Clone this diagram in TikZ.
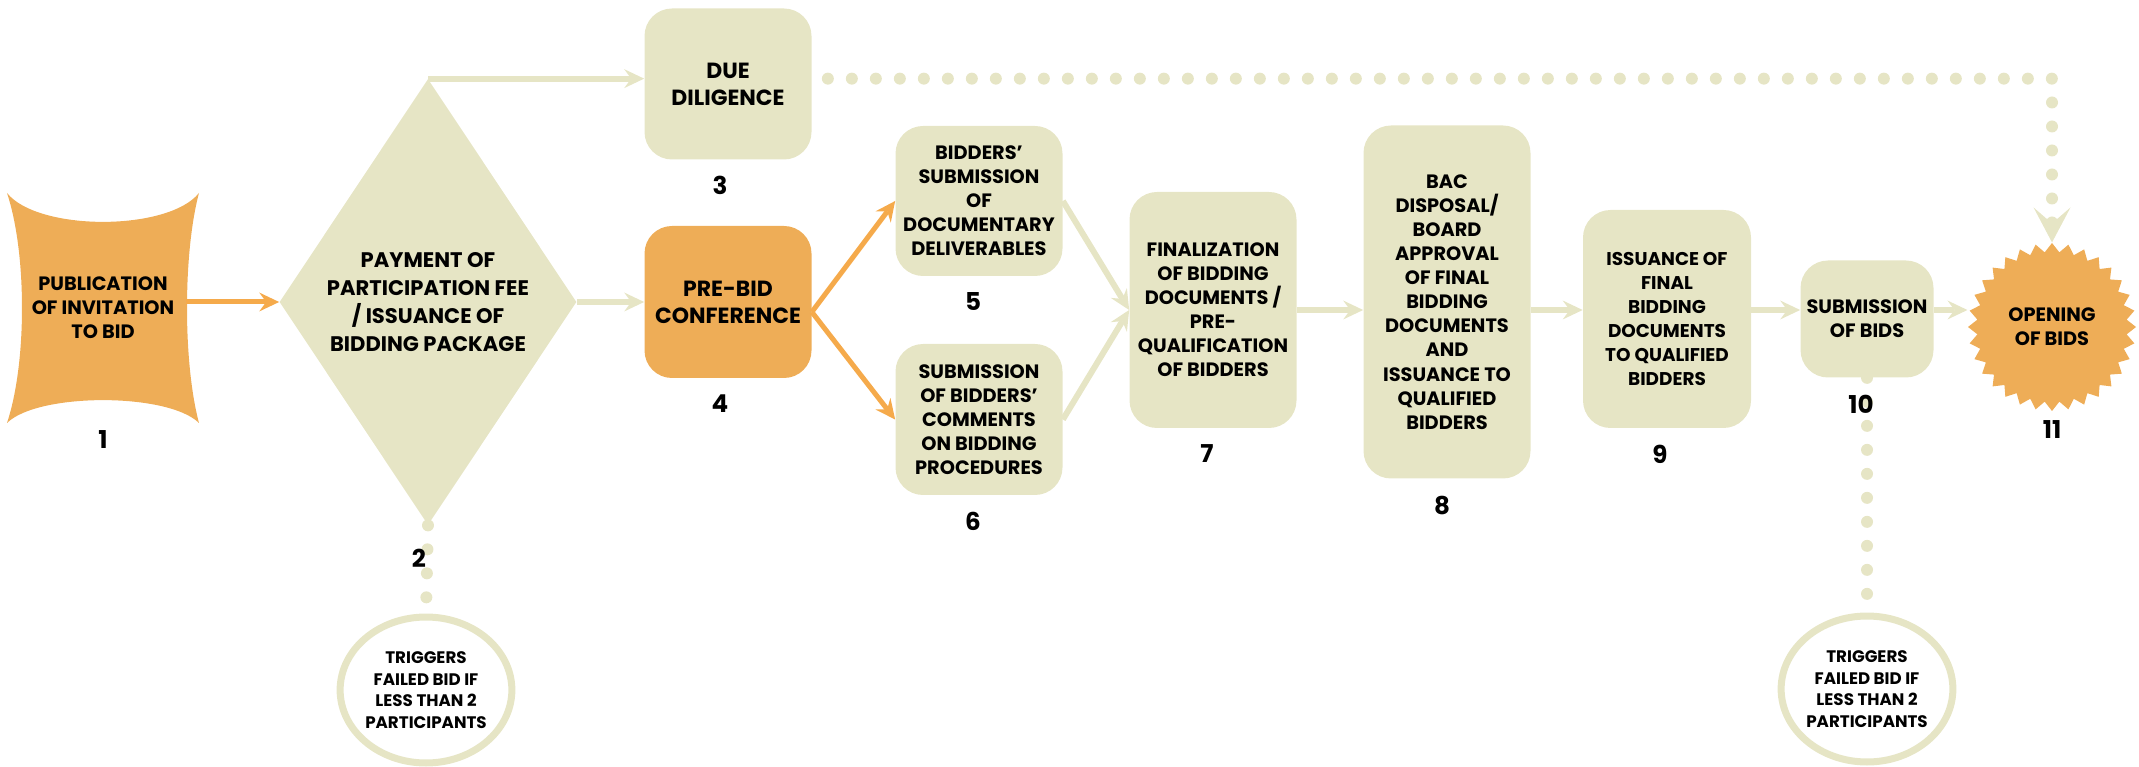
\documentclass[tikz,border=0pt]{standalone}
\usepackage{fontspec}
\setmainfont{Poppins}
\usepackage{tikz}
\usetikzlibrary{calc,shapes,arrows.meta,positioning,backgrounds}
\definecolor{beige}{RGB}{230,229,197}
\definecolor{orng}{RGB}{238,173,87}
\definecolor{orngline}{RGB}{245,170,75}

\tikzset{
	box/.style={fill=beige,rounded corners=0.55cm,minimum width=3.34cm,align=center,inner sep=0pt,font=\bfseries\fontsize{11}{13.7}\selectfont},
	bigbox/.style={box,font=\bfseries\fontsize{12.5}{15.4}\selectfont},
	num/.style={inner sep=0pt,font=\bfseries\fontsize{14}{16}\selectfont},
	arr/.style={draw=beige,line width=0.12cm,-{Stealth[length=0.4cm,width=0.38cm,inset=0.14cm,line width=0pt]}},
	oarr/.style={draw=orngline,line width=0.1cm,-{Stealth[length=0.4cm,width=0.38cm,inset=0.14cm,line width=0pt]}},
	dots/.style={draw=beige,line width=0.24cm,line cap=round,dash pattern=on 0pt off 0.48cm},
	trig/.style={ellipse,draw=beige,line width=0.14cm,fill=white,minimum width=3.24cm,minimum height=2.92cm,align=center,inner sep=0pt,font=\bfseries\fontsize{9.5}{12.2}\selectfont}
}

\begin{document}
\begin{tikzpicture}
	\useasboundingbox (0,0) rectangle (42.78,-15.34);
	\node(pub) at (2.06,-6.16) [minimum width=3.3cm,minimum height=3.56cm,align=center,inner sep=0pt,font=\bfseries\fontsize{11}{13.7}\selectfont]{PUBLICATION\\OF INVITATION\\TO BID};
	\node(pay) [diamond,fill=beige,right of=pub,node distance=6.5cm,yshift=0.12cm,minimum width=5.94cm,minimum height=8.92cm,aspect=0.666,inner sep=0pt,align=center,font=\bfseries\fontsize{12}{16.1}\selectfont]{PAYMENT OF\\PARTICIPATION FEE\\/ ISSUANCE OF\\BIDDING PACKAGE};
	\node(pre) [bigbox,fill=orng,right of=pay,node distance=6cm,minimum height=3.04cm]{PRE-BID\\CONFERENCE};
	\node(dd) [bigbox,above of=pre,node distance=4.36cm,minimum height=3.02cm]{DUE\\DILIGENCE};
	\node(sub5) [box,right of=pre,node distance=5.02cm,yshift=2.02cm,minimum height=3cm]{BIDDERS'\\SUBMISSION\\OF\\DOCUMENTARY\\DELIVERABLES};
	\node(sub6) [box,below of=sub5,node distance=4.37cm,minimum height=3.02cm]{SUBMISSION\\OF BIDDERS'\\COMMENTS\\ON BIDDING\\PROCEDURES};
	\node(fin) [box,right of=pre,node distance=9.7cm,yshift=-0.16cm,minimum height=4.72cm]{FINALIZATION\\OF BIDDING\\DOCUMENTS /\\PRE-\\QUALIFICATION\\OF BIDDERS};
	\node(bac) [box,right of=fin,node distance=4.68cm,yshift=0.16cm,minimum height=7.06cm]{BAC\\DISPOSAL/\\BOARD\\APPROVAL\\OF FINAL\\BIDDING\\DOCUMENTS\\AND\\ISSUANCE TO\\QUALIFIED\\BIDDERS};
	\node(iss) [box,right of=bac,node distance=4.4cm,yshift=-0.34cm,minimum width=3.36cm,minimum height=4.36cm,font=\bfseries\fontsize{10.5}{13.7}\selectfont]{ISSUANCE OF\\FINAL\\BIDDING\\DOCUMENTS\\TO QUALIFIED\\BIDDERS};
	\node(sob) [box,right of=iss,node distance=4cm,minimum width=2.66cm,minimum height=2.34cm]{SUBMISSION\\OF BIDS};
	\node(open) [star,star points=32,star point ratio=1.12,fill=orng,right of=sob,node distance=3.7cm,yshift=-0.16cm,minimum size=3.36cm,inner sep=0pt,align=center,font=\bfseries\fontsize{11}{13.7}\selectfont]{OPENING\\OF BIDS};
	\node(trigA) [trig,below of=pay,node distance=7.76cm,xshift=-0.04cm]{TRIGGERS\\FAILED BID IF\\LESS THAN 2\\PARTICIPANTS};
	\node(trigB) [trig,below of=sob,node distance=7.4cm]{TRIGGERS\\FAILED BID IF\\LESS THAN 2\\PARTICIPANTS};
	% shape of the first step
	\begin{scope}[on background layer]
		\fill[orng] ($(pub)+(-1.92,2.3)$) .. controls ($(pub)+(-1.3,1.53)$) and ($(pub)+(1.3,1.53)$) .. ($(pub)+(1.92,2.3)$)
			.. controls ($(pub)+(1.6,1.1)$) and ($(pub)+(1.6,-1.1)$) .. ($(pub)+(1.92,-2.3)$)
			.. controls ($(pub)+(1.3,-1.69)$) and ($(pub)+(-1.3,-1.69)$) .. ($(pub)+(-1.92,-2.3)$)
			.. controls ($(pub)+(-1.52,-1.1)$) and ($(pub)+(-1.52,1.1)$) .. cycle;
	\end{scope}
	\draw[oarr] (pub.east |- pay.west) -> (pay.west);
	\draw[arr] (pay.north) -> (pay.north -| dd.west);
	\draw[arr] (pay.east) -> (pre.west);
	\draw[oarr] ([yshift=-0.2cm]pre.east) -> (sub5.west);
	\draw[oarr] ([yshift=-0.2cm]pre.east) -> (sub6.west);
	\draw[arr] (sub5.east) -> (fin.west);
	\draw[arr] (sub6.east) -> (fin.west);
	\draw[arr] (fin.east) -> (fin.east -| bac.west);
	\draw[arr] (bac.east |- fin.east) -> (fin.east -| iss.west);
	\draw[arr] (iss.east |- fin.east) -> (fin.east -| sob.west);
	\draw[arr] (sob.east |- fin.east) -> (fin.east -| open.west);
	\draw[dots,shorten <=0.32cm,-{Stealth[length=0.7cm,width=0.74cm,inset=0.32cm,line width=0pt]}] (pay.north -| dd.east) -| (open.north);
	\draw[dots] (pay.south) -- (trigA.north);
	\draw[dots] (sob.south) -- (trigB.north);
	\node(n1) [num,below of=pub,node distance=2.63cm]{1};
	\node(n2) [num,below of=pay,node distance=5.12cm,xshift=-0.18cm]{2};
	\node(n3) [num,below of=dd,node distance=2.02cm,xshift=-0.16cm]{3};
	\node(n4) [num,below of=pre,node distance=2.04cm,xshift=-0.16cm]{4};
	\node(n5) [num,below of=sub5,node distance=2.02cm,xshift=-0.12cm]{5};
	\node(n6) [num,below of=sub6,node distance=2.03cm,xshift=-0.12cm]{6};
	\node(n7) [num,below of=fin,node distance=2.88cm,xshift=-0.12cm]{7};
	\node(n8) [num,below of=bac,node distance=4.08cm,xshift=-0.1cm]{8};
	\node(n9) [num,below of=iss,node distance=2.7cm,xshift=-0.14cm]{9};
	\node(n10) [num,below of=sob,node distance=1.7cm,xshift=-0.12cm]{10};
	\node(n11) [num,below of=open,node distance=2.06cm]{11};
\end{tikzpicture}
\end{document}
